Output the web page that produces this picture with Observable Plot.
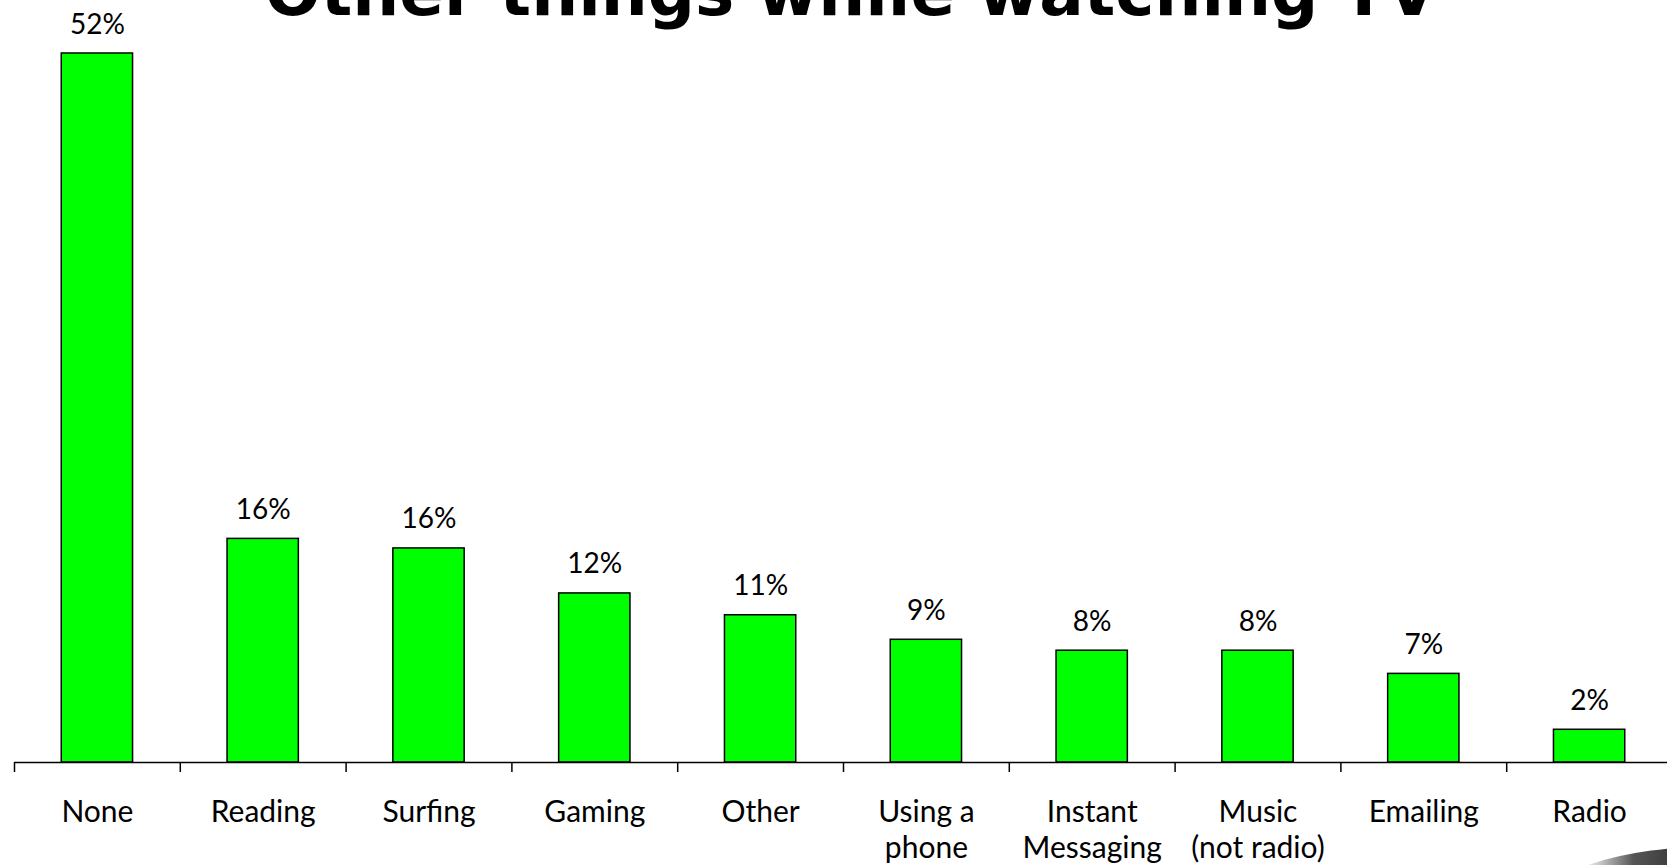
<!DOCTYPE html>
<html>
<head>
<meta charset="utf-8">
<script src="https://cdn.jsdelivr.net/npm/d3@7"></script>
<script src="https://cdn.jsdelivr.net/npm/@observablehq/plot@0.6"></script>
<style>
  html, body { margin: 0; padding: 0; background: #fff; overflow: hidden; }
  #wrap { position: relative; width: 1667px; height: 865px; overflow: hidden; }
  #blob { position: absolute; left: 1540px; top: 846px; width: 360px; height: 120px; border-radius: 50%;
          background: linear-gradient(to right, #ffffff 10%, #cfcfcf 16%, #555 26%, #2a2a2a 45%, #222 100%); }
</style>
</head>
<body>
<div id="wrap"><div id="chart"></div><div id="blob"></div></div>
<script>
const title = "Other things while watching TV";
const categories = ["None", "Reading", "Surfing", "Gaming", "Other", "Using a\nphone", "Instant\nMessaging", "Music\n(not radio)", "Emailing", "Radio"];
const values = [52, 16.4, 15.7, 12.4, 10.8, 9.0, 8.2, 8.2, 6.5, 2.4];

const data = categories.map((c, i) => ({cat: c, value: values[i]}));
const step = (1672 - 14) / categories.length;

const chart = Plot.plot({
  width: 1667,
  height: 865,
  marginTop: 53,
  marginBottom: 103,
  marginLeft: 14,
  marginRight: 0,
  style: {fontFamily: "Lato, sans-serif", background: "white", color: "black", overflow: "visible"},
  x: {domain: categories, range: [14, 1672], paddingInner: 0.57, paddingOuter: 0.285, round: false, axis: null},
  y: {domain: [0, 52], axis: null},
  marks: [
    Plot.barY(data, {x: "cat", y: "value", fill: "#00ff00", stroke: "black", strokeWidth: 1.5}),
    Plot.ruleY([0], {stroke: "black", strokeWidth: 1.5}),
    Plot.axisX({tickSize: 10, tickFormat: () => "", label: null, dx: -step / 2, stroke: "black", strokeWidth: 1.5, strokeOpacity: 1}),
    Plot.text(data, {x: "cat", y: 0, text: "cat", lineAnchor: "top", dy: 34, fontSize: 30, lineHeight: 1.2, fill: "black"}),
    Plot.text(data, {x: "cat", y: "value", text: d => Math.round(d.value) + "%", lineAnchor: "bottom", dy: -20, fontSize: 28, fill: "black"}),
    Plot.text([title], {frameAnchor: "top", text: d => d, lineAnchor: "bottom", dy: -39, dx: 10, fontSize: 66, fontWeight: "bold", fontFamily: "DejaVu Sans, sans-serif", fill: "black"})
  ]
});
document.getElementById("chart").appendChild(chart);
</script>
</body>
</html>
